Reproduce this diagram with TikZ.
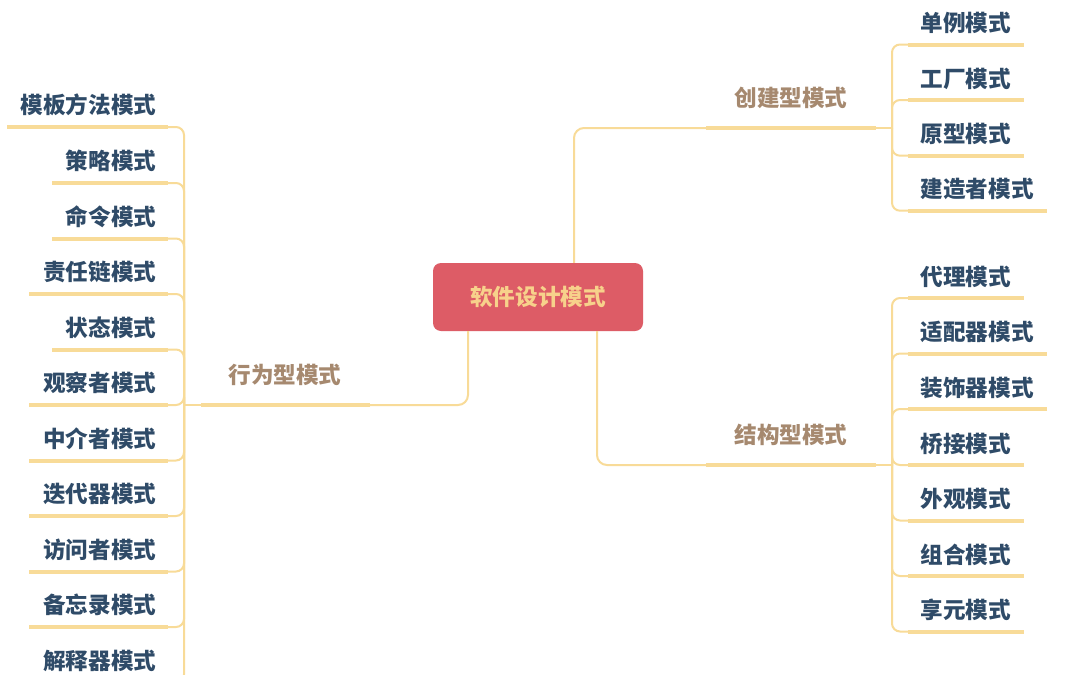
\documentclass[tikz,border=0pt]{standalone}
\usepackage{fontspec}
\setmainfont{Noto Sans CJK SC}
\definecolor{rootC}{HTML}{DD5C66}
\definecolor{rootT}{HTML}{F7D18B}
\definecolor{lineC}{HTML}{F8DB98}
\definecolor{leafC}{HTML}{2F4B68}
\definecolor{midC}{HTML}{A6896F}
\tikzset{
  conn/.style={draw=lineC, line width=2pt},
  uline/.style={draw=lineC, line width=4pt},
  leaf/.style={text=leafC, inner sep=0pt, font=\bfseries\fontsize{22.6}{22.6}\selectfont},
  mid/.style={text=midC, inner sep=0pt, font=\bfseries\fontsize{22.6}{22.6}\selectfont},
  rootbox/.style={fill=rootC, rounded corners=8pt, minimum width=210pt, minimum height=68pt, text=rootT, inner sep=0pt, font=\bfseries\fontsize{22.6}{22.6}\selectfont},
}
\begin{document}
\begin{tikzpicture}[x=1pt,y=-1pt]
\useasboundingbox (0,0) rectangle (1080,675);
\clip (0,0) rectangle (1080,675);
\fill[white] (0,0) rectangle (1080,675);

% root
\node[rootbox] (root) at (538,297) {软件设计模式};

% ---------- 创建型模式 ----------
\coordinate (cA) at (706,128);
\coordinate (cB) at (876,128);
\coordinate (J1) at (892,128);
\node[mid] (create) at (791,98) {创建型模式};
\draw[conn, rounded corners=10pt] ([xshift=36pt]root.north) |- (cA);
\draw[uline] (cA) -- (cB);
\draw[conn] (cB) -- (J1);
\foreach \i/\y/\t/\e in {1/44.5/单例模式/1024, 2/100/工厂模式/1024, 3/155.7/原型模式/1024, 4/210.7/建造者模式/1047}{
  \coordinate (ctS\i) at (908,\y);
  \coordinate (ctE\i) at (\e,\y);
  \node[leaf, anchor=base west] (ct\i) at (920.5,\y-12.8) {\t};
  \draw[uline] (ctS\i) -- (ctE\i);
  \draw[conn, rounded corners=8pt] (J1) |- (ctS\i);
}

% ---------- 结构型模式 ----------
\coordinate (sA) at (706,465);
\coordinate (sB) at (876,465);
\coordinate (J2) at (892,465);
\node[mid] (struct) at (791,435) {结构型模式};
\draw[conn, rounded corners=10pt] ([xshift=59pt]root.south) |- (sA);
\draw[uline] (sA) -- (sB);
\draw[conn] (sB) -- (J2);
\foreach \i/\y/\t/\e in {1/298/代理模式/1024, 2/353.5/适配器模式/1047, 3/409/装饰器模式/1047, 4/465/桥接模式/1024, 5/520.5/外观模式/1024, 6/576/组合模式/1024, 7/631.5/享元模式/1024}{
  \coordinate (stS\i) at (908,\y);
  \coordinate (stE\i) at (\e,\y);
  \node[leaf, anchor=base west] (st\i) at (920.5,\y-12.8) {\t};
  \draw[uline] (stS\i) -- (stE\i);
  \draw[conn, rounded corners=8pt] (J2) |- (stS\i);
}

% ---------- 行为型模式 ----------
\coordinate (bA) at (370,405);
\coordinate (bB) at (201,405);
\coordinate (J3) at (184,405);
\node[mid] (behav) at (285,375) {行为型模式};
\draw[conn, rounded corners=10pt] ([xshift=-70pt]root.south) |- (bA);
\draw[uline] (bA) -- (bB);
\draw[conn] (bB) -- (J3);
\foreach \i/\y/\t/\s in {1/127/模板方法模式/7, 2/183/策略模式/52, 3/238.5/命令模式/52, 4/294/责任链模式/29, 5/349.5/状态模式/52, 6/405/观察者模式/29, 7/460.5/中介者模式/29, 8/516/迭代器模式/29, 9/571.5/访问者模式/29, 10/627/备忘录模式/29, 11/682.5/解释器模式/29}{
  \coordinate (btS\i) at (\s,\y);
  \coordinate (btE\i) at (168,\y);
  \node[leaf, anchor=base east] (bt\i) at (156.5,\y-13.5) {\t};
  \draw[uline] (btS\i) -- (btE\i);
  \draw[conn, rounded corners=8pt] (J3) |- (btE\i);
}
\end{tikzpicture}
\end{document}
